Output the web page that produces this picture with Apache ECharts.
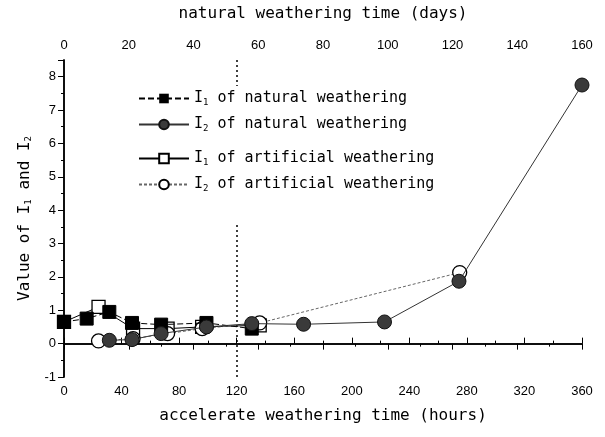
<!DOCTYPE html>
<html><head><meta charset="utf-8">
<script src="https://cdn.jsdelivr.net/npm/echarts@6/dist/echarts.min.js"></script>
<style>html,body{margin:0;padding:0;background:#fff}#c{width:605px;height:437px}</style>
</head><body><div id="c"></div>
<script>
// natural weathering (days, top axis)
const natI1Days = [0, 7, 14, 21, 30, 44, 58];
const natI1Vals = [0.65, 0.75, 0.95, 0.62, 0.57, 0.62, 0.45];
const natI2Days = [14, 21, 30, 44, 58, 74, 99, 122, 160];
const natI2Vals = [0.1, 0.12, 0.3, 0.5, 0.6, 0.58, 0.65, 1.87, 7.75];
// artificial (accelerated) weathering (hours, bottom axis)
const artI1Hours = [0, 24, 48, 72, 96, 136];
const artI1Vals = [0.65, 1.1, 0.45, 0.45, 0.5, 0.55];
const artI2Hours = [24, 48, 72, 96, 136, 275];
const artI2Vals = [0.08, 0.15, 0.3, 0.45, 0.62, 2.13];
const dividerHours = 120;

const zip = (a, b) => a.map((v, i) => [v, b[i]]);
const legendNames = {
  'I1 of natural weathering': ['1', 'of natural weathering'],
  'I2 of natural weathering': ['2', 'of natural weathering'],
  'I1 of artificial weathering': ['1', 'of artificial weathering'],
  'I2 of artificial weathering': ['2', 'of artificial weathering']
};
const FONT = 'Liberation Sans';
const MONO = 'DejaVu Sans Mono';
const legendCommon = {
  orient: 'vertical', left: 138, itemWidth: 50, itemHeight: 12, itemGap: 10,
  backgroundColor: '#fff', z: 20, zlevel: 0,
  formatter: n => '{t|I}{s|' + legendNames[n][0] + '}{t| ' + legendNames[n][1] + '}',
  textStyle: { color: '#000', rich: {
    t: { fontFamily: MONO, fontSize: 15, color: '#000' },
    s: { fontFamily: MONO, fontSize: 9, color: '#000', verticalAlign: 'bottom', padding: [8, 0, 0, 0] }
  } }
};
const chart = echarts.init(document.getElementById('c'), null, { renderer: 'canvas' });
const tickLabel = { color: '#000', fontFamily: FONT, fontSize: 13 };
chart.setOption({
  animation: false,
  grid: { left: 64, right: 23, top: 60, bottom: 60 },
  xAxis: [{
    type: 'value', position: 'bottom', min: 0, max: 360, interval: 40,
    name: 'accelerate weathering time (hours)', nameLocation: 'middle', nameGap: 31,
    nameTextStyle: { color: '#000', fontFamily: MONO, fontSize: 16 },
    axisLine: { show: true, lineStyle: { color: '#000', width: 1.5 } },
    axisTick: { inside: true, length: 6, lineStyle: { color: '#000' } },
    minorTick: { show: true, splitNumber: 2, length: 3, lineStyle: { color: '#000' } },
    axisLabel: tickLabel, splitLine: { show: false }
  }, {
    type: 'value', position: 'top', min: 0, max: 160, interval: 20,
    name: 'natural weathering time (days)', nameLocation: 'middle', nameGap: 38,
    nameTextStyle: { color: '#000', fontFamily: MONO, fontSize: 16 },
    axisLine: { show: true, lineStyle: { color: '#000', width: 1.5 } },
    axisTick: { inside: true, length: 6, lineStyle: { color: '#000' } },
    minorTick: { show: true, splitNumber: 2, length: 3, lineStyle: { color: '#000' } },
    axisLabel: tickLabel, splitLine: { show: false }
  }],
  yAxis: [{
    type: 'value', position: 'left', min: -1, max: 8.5, interval: 1,
    name: 'Value of I{s|1} and I{s|2}', nameLocation: 'middle', nameGap: 30, nameRotate: 90,
    nameTextStyle: { color: '#000', fontFamily: MONO, fontSize: 16,
      rich: { s: { fontFamily: MONO, fontSize: 9, verticalAlign: 'bottom', padding: [8, 0, 0, 0] } } },
    axisLine: { show: true, lineStyle: { color: '#000', width: 1.5 } },
    axisTick: { inside: false, length: 5, lineStyle: { color: '#000' } },
    minorTick: { show: true, splitNumber: 2, length: 3, lineStyle: { color: '#000' } },
    axisLabel: Object.assign({ formatter: v => Number.isInteger(v) ? String(v) : '' }, tickLabel),
    splitLine: { show: false }
  }, {
    type: 'value', position: 'right', min: -1, max: 8.5, interval: 1,
    axisLine: { show: true, lineStyle: { color: '#000', width: 1.5 } },
    axisTick: { inside: true, length: 6, lineStyle: { color: '#000' } },
    minorTick: { show: true, splitNumber: 2, length: 3, lineStyle: { color: '#000' } },
    axisLabel: { show: false }, splitLine: { show: false }
  }],
  legend: [
    Object.assign({ top: 86, padding: [5, 6, 14, 0], data: ['I1 of natural weathering', 'I2 of natural weathering'] }, legendCommon),
    Object.assign({ top: 146, padding: [5, 6, 30, 0], data: ['I1 of artificial weathering', 'I2 of artificial weathering'] }, legendCommon)
  ],
  series: [{
    name: 'I1 of natural weathering', type: 'line', xAxisIndex: 1, yAxisIndex: 0,
    data: zip(natI1Days, natI1Vals), symbol: 'rect', symbolSize: 13, z: 5,
    itemStyle: { color: '#000', borderColor: '#000' },
    lineStyle: { color: '#000', width: 1, type: [6, 3] }
  }, {
    name: 'I2 of natural weathering', type: 'line', xAxisIndex: 1, yAxisIndex: 0,
    data: zip(natI2Days, natI2Vals), symbol: 'circle', symbolSize: 14, z: 6,
    itemStyle: { color: '#3a3a3a', borderColor: '#111', borderWidth: 1 },
    lineStyle: { color: '#333', width: 1 }
  }, {
    name: 'I1 of artificial weathering', type: 'line', xAxisIndex: 0, yAxisIndex: 0,
    data: zip(artI1Hours, artI1Vals), symbol: 'rect', symbolSize: 13, z: 3,
    itemStyle: { color: '#fff', borderColor: '#000', borderWidth: 1.3 },
    lineStyle: { color: '#000', width: 1 },
    markLine: { silent: true, symbol: 'none', label: { show: false }, z: 1,
      lineStyle: { color: '#000', type: [2, 3], width: 1.5 },
      data: [{ xAxis: dividerHours }] }
  }, {
    name: 'I2 of artificial weathering', type: 'line', xAxisIndex: 0, yAxisIndex: 0,
    data: zip(artI2Hours, artI2Vals), symbol: 'circle', symbolSize: 14, z: 4,
    itemStyle: { color: '#fff', borderColor: '#000', borderWidth: 1.3 },
    lineStyle: { color: '#666', width: 1, type: [3, 2] }
  }]
});
</script></body></html>
